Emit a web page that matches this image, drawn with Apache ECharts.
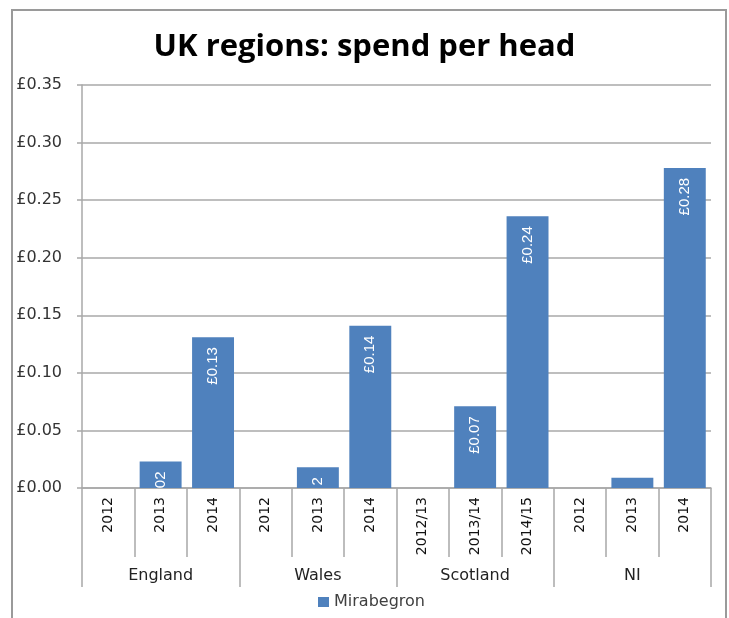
<!DOCTYPE html>
<html>
<head>
<meta charset="utf-8">
<script src="https://cdn.jsdelivr.net/npm/echarts@6/dist/echarts.min.js"></script>
<style>html,body{margin:0;padding:0;background:#fff;}#c{width:729px;height:618px;}</style>
</head>
<body>
<div id="c"></div>
<script>
var years = ['2012','2013','2014','2012','2013','2014','2012/13','2013/14','2014/15','2012','2013','2014'];
var regions = ['England','Wales','Scotland','NI'];
var values = [0, 0.023, 0.131, 0, 0.018, 0.141, 0, 0.071, 0.236, 0, 0.009, 0.278];
var barLabels = ['', '02', '£0.13', '', '2', '£0.14', '', '£0.07', '£0.24', '', '', '£0.28'];
var yTicks = [0, 0.05, 0.10, 0.15, 0.20, 0.25, 0.30, 0.35];
var seriesName = 'Mirabegron';
var titleText = 'UK regions: spend per head';

var chart = echarts.init(document.getElementById('c'), null, {renderer: 'canvas'});
var gray = '#a8a8a8';
var option = {
  animation: false,
  backgroundColor: '#fff',
  title: {
    text: titleText, left: 'center', top: 27,
    textStyle: {fontFamily: 'Open Sans', fontWeight: 'bold', fontSize: 31, color: '#000'}
  },
  legend: {
    data: [seriesName], left: 313, top: 589, icon: 'rect', itemWidth: 11, itemHeight: 10, itemGap: 7,
    textStyle: {fontFamily: 'DejaVu Sans', fontSize: 16, color: '#404040'}
  },
  grid: {left: 82, right: 18, top: 85, bottom: 130, containLabel: false},
  graphic: [{
    type: 'rect', shape: {x: 12, y: 10, width: 714, height: 700},
    style: {fill: 'none', stroke: '#9a9a9a', lineWidth: 2}, z: 0
  }],
  yAxis: {
    type: 'value', min: yTicks[0], max: yTicks[yTicks.length - 1], interval: 0.05,
    axisLine: {show: true, lineStyle: {color: gray, width: 1.5}},
    axisTick: {show: true, length: 5, lineStyle: {color: gray, width: 1.5}},
    splitLine: {show: true, lineStyle: {color: gray, width: 1.5}},
    axisLabel: {
      margin: 20, fontFamily: 'DejaVu Sans', fontSize: 16, color: '#333',
      formatter: function (v) { return '£' + v.toFixed(2); }
    }
  },
  xAxis: [{
    type: 'category', data: years, position: 'bottom',
    axisLine: {show: true, lineStyle: {color: gray, width: 1.5}},
    axisTick: {show: true, interval: 0, length: 69, lineStyle: {color: gray, width: 1.5}},
    axisLabel: {interval: 0, rotate: 90, margin: 9, fontFamily: 'DejaVu Sans', fontSize: 14, color: '#111'}
  }, {
    type: 'category', data: regions, position: 'bottom',
    axisLine: {show: false},
    axisTick: {show: true, interval: 0, length: 99, lineStyle: {color: gray, width: 1.5}},
    axisLabel: {interval: 0, margin: 80, fontFamily: 'DejaVu Sans', fontSize: 16, color: '#222'}
  }],
  series: [{
    name: seriesName, type: 'bar', xAxisIndex: 0, data: values,
    barCategoryGap: '20%',
    itemStyle: {color: '#4F81BD', borderWidth: 0},
    label: {
      show: true, position: 'insideTop', distance: 10, rotate: 90, align: 'right', verticalAlign: 'middle',
      fontFamily: 'Liberation Sans', fontSize: 15, color: '#fff',
      formatter: function (p) { return barLabels[p.dataIndex]; }
    }
  }]
};
chart.setOption(option);
</script>
</body>
</html>
